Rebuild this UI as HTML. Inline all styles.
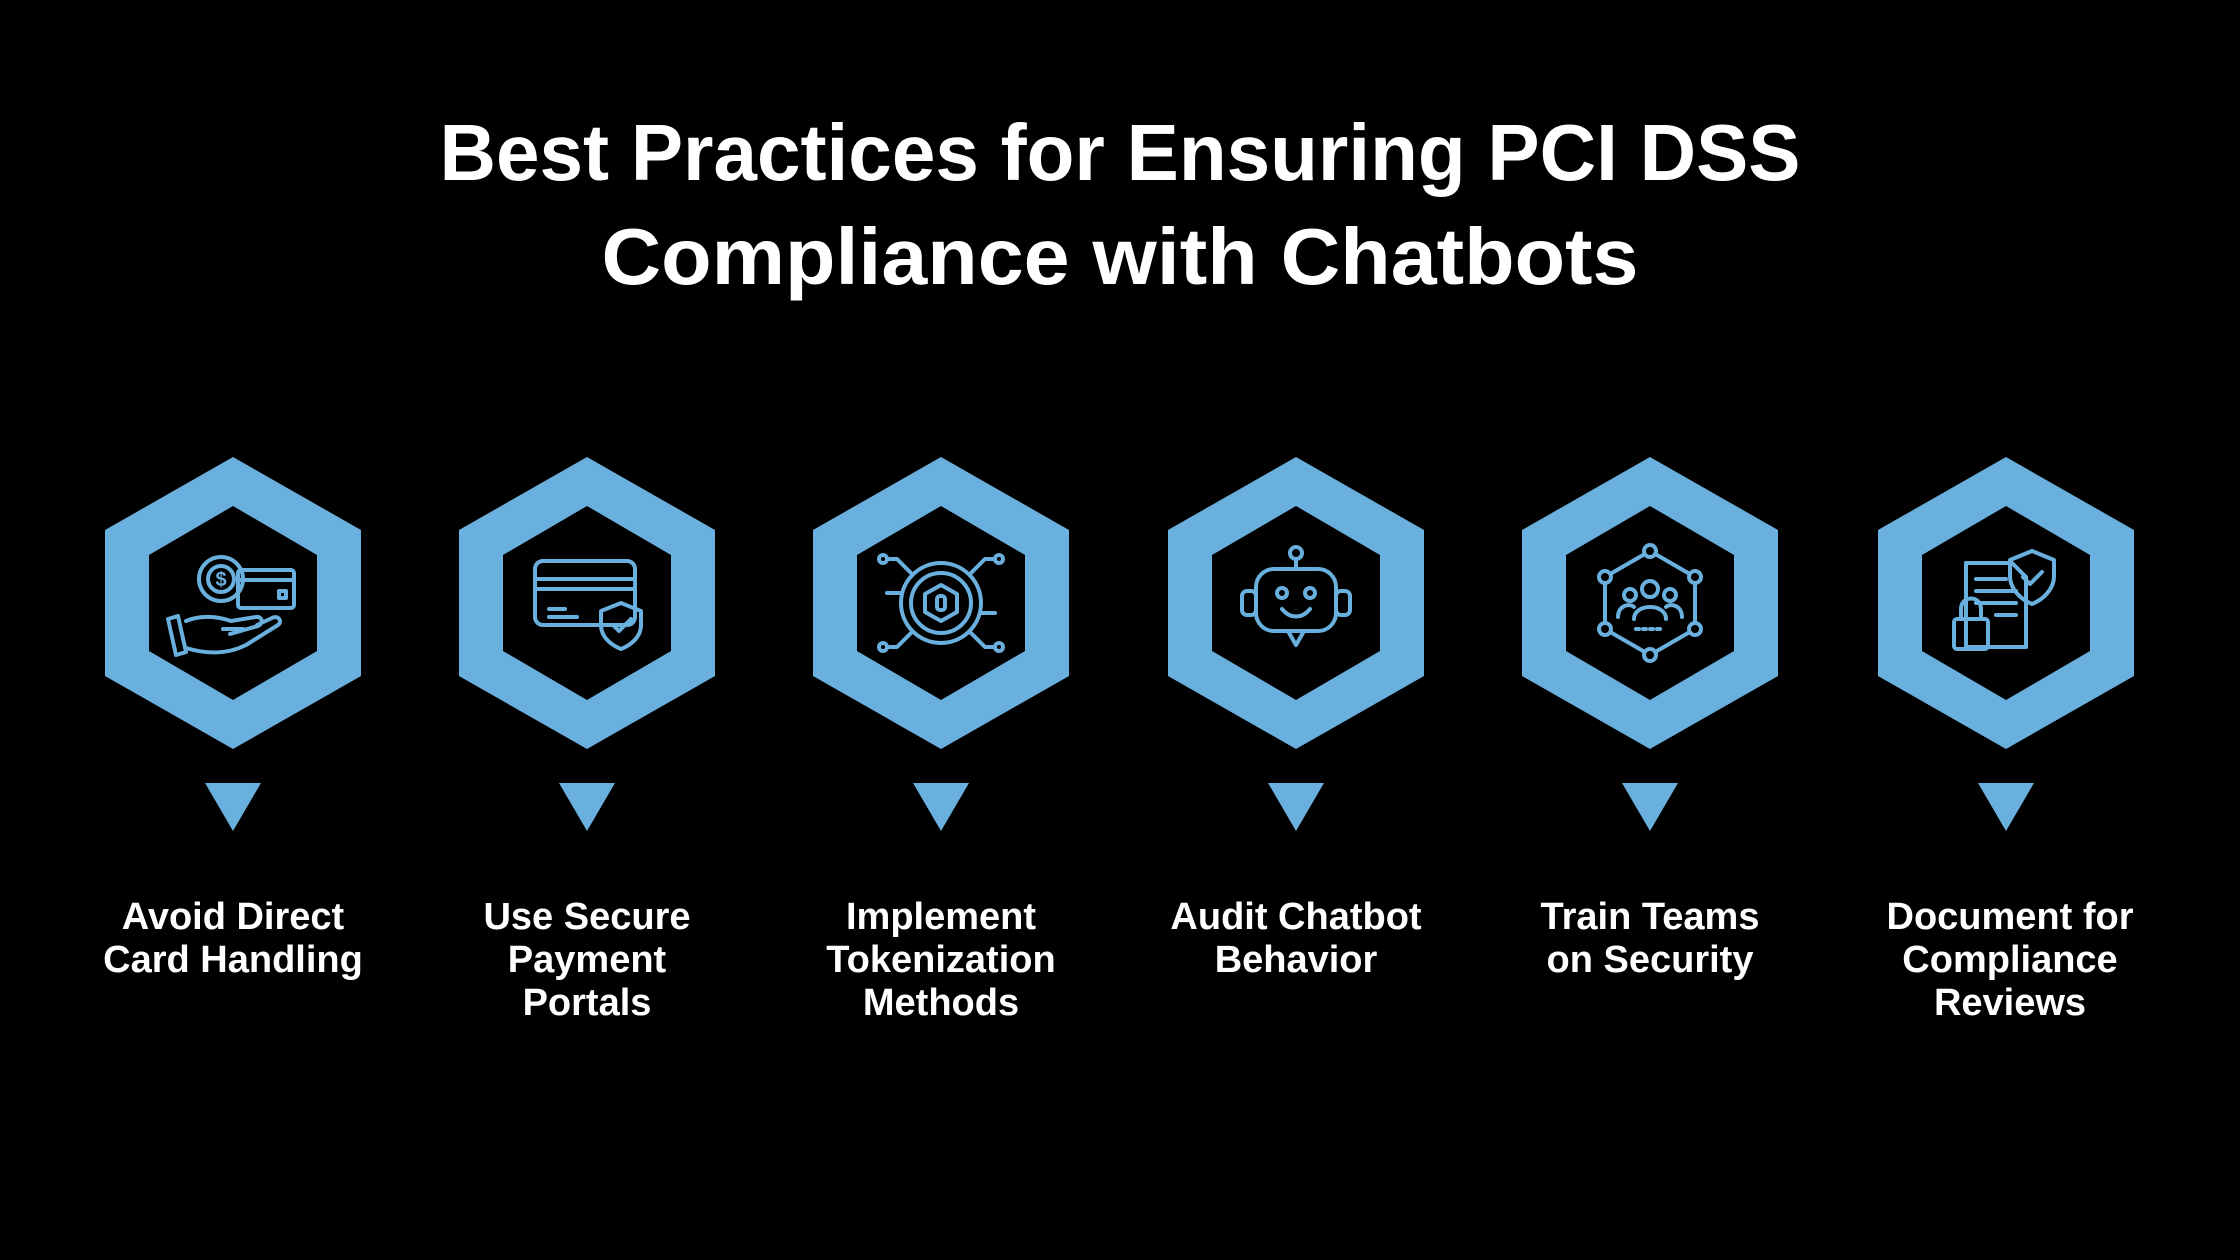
<!DOCTYPE html>
<html><head><meta charset="utf-8"><style>
html,body{margin:0;padding:0;background:#000;}
svg{display:block}
text{font-family:"Liberation Sans",sans-serif;font-weight:bold;fill:#fff;text-anchor:middle}
.ic{fill:none;stroke:#6ab0de;stroke-width:4;stroke-linecap:round;stroke-linejoin:round}
</style></head><body>
<svg width="2240" height="1260" viewBox="0 0 2240 1260" xmlns="http://www.w3.org/2000/svg">
<rect width="2240" height="1260" fill="#000"/>
<text x="1120" y="180" font-size="80" textLength="1361" lengthAdjust="spacingAndGlyphs">Best Practices for Ensuring PCI DSS</text>
<text x="1120" y="284" font-size="80" textLength="1037" lengthAdjust="spacingAndGlyphs">Compliance with Chatbots</text>

<defs>
<g id="hx">
<polygon points="0,-146 128,-73 128,73 0,146 -128,73 -128,-73" fill="#6ab0de"/>
<polygon points="0,-97 84,-48 84,48 0,97 -84,48 -84,-48" fill="#000"/>
<polygon points="-28,180 28,180 0,228" fill="#6ab0de"/>
</g>
</defs>

<g transform="translate(233,603)"><use href="#hx"/>
<g class="ic"><circle cx="-12" cy="-24" r="22"/><circle cx="-12" cy="-24" r="13"/><text x="-12" y="-17" font-size="20" style="fill:#6ab0de;stroke:none">$</text>
<rect x="5" y="-33" width="56" height="38" rx="3"/><line x1="5" y1="-23" x2="61" y2="-23"/><rect x="46" y="-12" width="7" height="7"/>
<path d="M-55,13 l-10,3 l8,36 l10,-3 z M-47,18 c15,-6 30,-5 45,0 l25,-4 c6,-1 8,6 2,9 l-28,8 M-10,26 l20,0 M-47,45 c20,6 40,7 60,-3 l32,-20 c5,-4 0,-10 -6,-7 l-15,7"/></g></g>

<g transform="translate(587,603)"><use href="#hx"/>
<g class="ic"><rect x="-52" y="-42" width="100" height="64" rx="8"/><line x1="-52" y1="-24" x2="48" y2="-24"/><line x1="-52" y1="-14" x2="48" y2="-14"/><line x1="-38" y1="6" x2="-22" y2="6"/><line x1="-38" y1="14" x2="-10" y2="14"/>
<path d="M34,0 l20,8 v14 c0,12 -10,20 -20,24 c-10,-4 -20,-12 -20,-24 v-14 z"/><path d="M26,22 l6,6 l12,-12"/></g></g>

<g transform="translate(941,603)"><use href="#hx"/>
<g class="ic"><circle r="40"/><circle r="30"/><polygon points="0,-18 16,-9 16,9 0,18 -16,9 -16,-9"/><rect x="-4" y="-7" width="8" height="14" rx="3"/>
<path d="M-30,-30 l-14,-14 h-10 M30,-30 l14,-14 h10 M-30,30 l-14,14 h-10 M30,30 l14,14 h10 M-40,-10 h-14 M40,10 h14"/>
<circle cx="-58" cy="-44" r="4"/><circle cx="58" cy="-44" r="4"/><circle cx="-58" cy="44" r="4"/><circle cx="58" cy="44" r="4"/></g></g>

<g transform="translate(1296,603)"><use href="#hx"/>
<g class="ic"><circle cx="0" cy="-50" r="6"/><line x1="0" y1="-44" x2="0" y2="-34"/><rect x="-40" y="-34" width="80" height="62" rx="18"/><path d="M-8,28 l8,14 l8,-14"/>
<rect x="-54" y="-12" width="14" height="24" rx="5"/><rect x="40" y="-12" width="14" height="24" rx="5"/>
<circle cx="-14" cy="-10" r="5"/><circle cx="14" cy="-10" r="5"/><path d="M-14,6 c8,10 20,10 28,0"/></g></g>

<g transform="translate(1650,603)"><use href="#hx"/>
<g class="ic"><polygon points="0,-52 45,-26 45,26 0,52 -45,26 -45,-26"/>
<circle cx="0" cy="-52" r="6" fill="#000"/><circle cx="45" cy="-26" r="6" fill="#000"/><circle cx="45" cy="26" r="6" fill="#000"/><circle cx="0" cy="52" r="6" fill="#000"/><circle cx="-45" cy="26" r="6" fill="#000"/><circle cx="-45" cy="-26" r="6" fill="#000"/>
<circle cx="0" cy="-14" r="8"/><path d="M-16,16 c0,-16 32,-16 32,0"/><circle cx="-20" cy="-8" r="6"/><circle cx="20" cy="-8" r="6"/><path d="M-32,14 c0,-12 12,-14 16,-10 M32,14 c0,-12 -12,-14 -16,-10"/><line x1="-14" y1="26" x2="14" y2="26" stroke-dasharray="3 4"/></g></g>

<g transform="translate(2006,603)"><use href="#hx"/>
<g class="ic"><path d="M-40,-40 h46 l14,14 v70 h-60 z"/><line x1="-30" y1="-24" x2="0" y2="-24"/><line x1="-30" y1="-12" x2="10" y2="-12"/><line x1="-30" y1="0" x2="10" y2="0"/><line x1="-10" y1="12" x2="10" y2="12"/>
<path d="M26,-52 l22,9 v16 c0,14 -12,24 -22,28 c-10,-4 -22,-14 -22,-28 v-16 z"/><path d="M17,-26 l7,7 l12,-12"/>
<rect x="-52" y="16" width="34" height="30" rx="3"/><path d="M-45,16 v-10 c0,-14 20,-14 20,0 v10"/></g></g>

<g font-size="38">
<text x="233" y="929">Avoid Direct</text><text x="233" y="972">Card Handling</text>
<text x="587" y="929">Use Secure</text><text x="587" y="972">Payment</text><text x="587" y="1015">Portals</text>
<text x="941" y="929">Implement</text><text x="941" y="972">Tokenization</text><text x="941" y="1015">Methods</text>
<text x="1296" y="929">Audit Chatbot</text><text x="1296" y="972">Behavior</text>
<text x="1650" y="929">Train Teams</text><text x="1650" y="972">on Security</text>
<text x="2010" y="929">Document for</text><text x="2010" y="972">Compliance</text><text x="2010" y="1015">Reviews</text>
</g>
</svg>
</body></html>
